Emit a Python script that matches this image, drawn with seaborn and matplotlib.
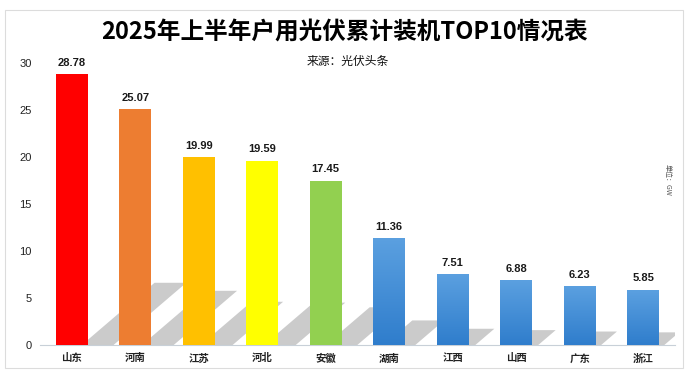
import matplotlib.pyplot as plt
import matplotlib.patches as mpatches
import numpy as np
import seaborn as sns

provinces = ["山东", "河南", "江苏", "河北", "安徽", "湖南", "江西", "山西", "广东", "浙江"]
capacity = [28.78, 25.07, 19.99, 19.59, 17.45, 11.36, 7.51, 6.88, 6.23, 5.85]
bar_colors = ["#FF0000", "#ED7D31", "#FFC000", "#FFFF00", "#92D050",
              "#4A8FD8", "#4A8FD8", "#4A8FD8", "#4A8FD8", "#4A8FD8"]
yticks = [0, 5, 10, 15, 20, 25, 30]

sns.set_style("white")
plt.rcParams["font.family"] = ["Noto Sans CJK SC", "DejaVu Sans"]
num_font = ["Liberation Sans", "Noto Sans CJK SC"]

fig = plt.figure(figsize=(6.89, 3.75), dpi=100)
ax = fig.add_axes([0.058, 0.08, 0.9216, 0.752])

# frame around the whole chart
fig.patches.append(mpatches.Rectangle((0.007, 0.019), 0.984, 0.955, transform=fig.transFigure,
                                      fill=False, edgecolor="#dcdcdc", linewidth=0.8))

sns.barplot(x=provinces, y=capacity, hue=provinces, palette=bar_colors,
            width=0.5, legend=False, ax=ax, zorder=3, saturation=1, linewidth=0)

# slanted drop shadows behind the bars
for i, h in enumerate(capacity):
    x0 = i - 0.25 + 0.0142 * h
    d = 0.0398 * h
    hs = 0.23 * h
    poly = mpatches.Polygon([(x0, 0), (x0 + 0.5, 0), (x0 + 0.5 + d, hs), (x0 + d, hs)],
                            closed=True, facecolor="#cbcbcb", edgecolor="none", zorder=1)
    ax.add_patch(poly)

# gradient for the blue bars
grad = np.linspace(0, 1, 256).reshape(-1, 1)
cmap = sns.blend_palette(["#2F7DCC", "#5BA0E0"], as_cmap=True)
for i, p in enumerate(ax.patches[:len(capacity)]):
    if i >= 5:
        x, y = p.get_x(), p.get_y()
        w, hh = p.get_width(), p.get_height()
        im = ax.imshow(grad, extent=[x, x + w, y, y + hh], origin="lower", cmap=cmap,
                       aspect="auto", zorder=4)
        im.set_clip_path(p)

for i, v in enumerate(capacity):
    ax.text(i, v + 0.7, f"{v:.2f}", ha="center", va="bottom", fontsize=8,
            fontweight="bold", color="#1a1a1a", zorder=5, family=num_font)

ax.set_xlim(-0.5, len(provinces) - 0.5)
ax.set_ylim(0, 30)
ax.set_yticks(yticks)
ax.set_yticklabels([str(t) for t in yticks], fontsize=8, color="#222222", family=num_font)
ax.set_xticks(range(len(provinces)))
ax.set_xticklabels(provinces, fontsize=7.5, fontweight="bold", color="#222222")
ax.set_xticks(np.arange(-0.5, len(provinces), 1), minor=True)
ax.tick_params(axis="x", which="major", length=0, pad=6)
ax.tick_params(axis="x", which="minor", length=3, color="#c8d0d8", width=0.8)
ax.tick_params(axis="y", length=0, pad=6)
ax.set_xlabel("")
ax.set_ylabel("")
for s in ["top", "right", "left"]:
    ax.spines[s].set_visible(False)
ax.spines["bottom"].set_color("#c8d0d8")
ax.spines["bottom"].set_linewidth(0.8)

fig.text(0.5, 0.915, "2025年上半年户用光伏累计装机TOP10情况表", ha="center", va="center",
         fontsize=17, fontweight="bold", color="#000000")
fig.text(0.505, 0.835, "来源：光伏头条", ha="center", va="center", fontsize=8.5, color="#111111")
fig.text(0.969, 0.52, "单位：GW", ha="center", va="center", fontsize=5, color="#555555",
         rotation=270)

fig.savefig("out.png", dpi=100)
